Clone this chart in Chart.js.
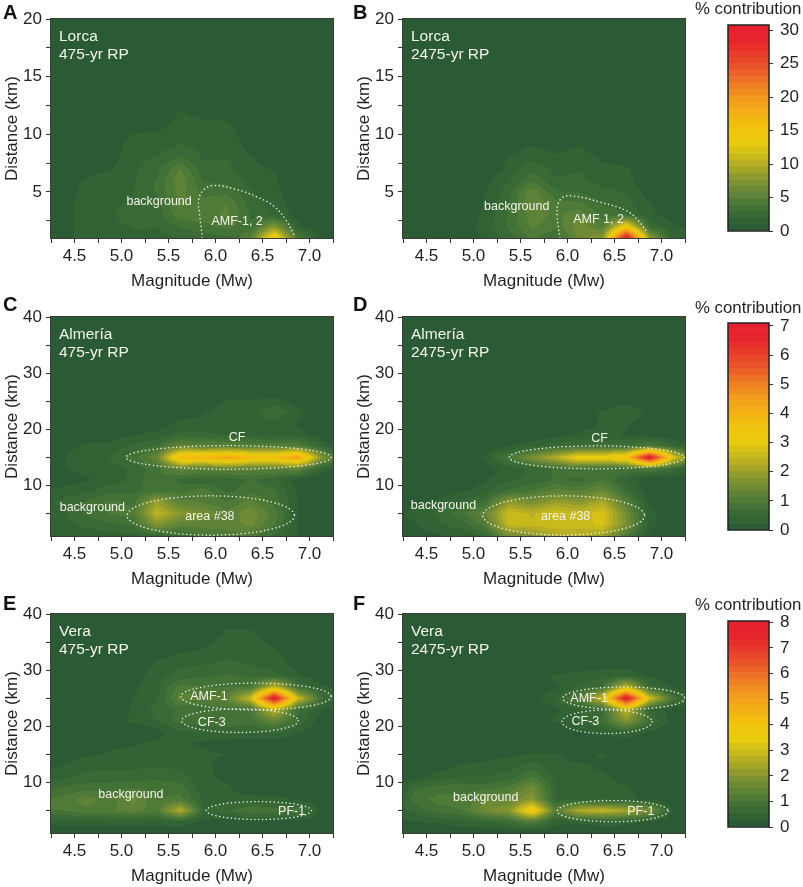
<!DOCTYPE html>
<html lang="en">
<head>
<meta charset="UTF-8">
<title>Seismic hazard disaggregation</title>
<script src="https://cdn.jsdelivr.net/npm/chart.js"></script>
<style>
    body { margin: 0; background: #fff; font-family: "Liberation Sans", Arial, sans-serif; color: #231f20; }
    #page { position: relative; width: 803px; height: 887px; overflow: hidden; }
    canvas { position: absolute; }
    .letter { position: absolute; font-size: 20px; font-weight: bold; line-height: 18px; color: #111; }
    .cbtitle { position: absolute; left: 695px; font-size: 16.8px; line-height: 18px; white-space: nowrap; }
</style>
</head>
<body>
<div id="page"></div>
<script>
// bin centres of the contour grids
const magnitudes = [4.125, 4.375, 4.625, 4.875, 5.125, 5.375, 5.625, 5.875, 6.125, 6.375, 6.625, 6.875, 7.125, 7.375];
const lorcaDistances = [1, 2, 3, 4, 5, 6, 7, 8, 9, 10, 11, 12, 13, 14];
const otherDistances = [1, 3, 5, 7, 9, 11, 13, 15, 17, 19, 21, 23, 25, 27, 29, 31, 33, 35, 37, 39];

// tick labels
const magnitudeTicks = [4.25, 4.5, 4.75, 5, 5.25, 5.5, 5.75, 6, 6.25, 6.5, 6.75, 7, 7.25];
const magnitudeLabels = ["", "4.5", "", "5.0", "", "5.5", "", "6.0", "", "6.5", "", "7.0", ""];
const lorcaTicks = [2.5, 5, 7.5, 10, 12.5, 15, 17.5, 20];
const lorcaLabels = ["", "5", "", "10", "", "15", "", "20"];
const otherTicks = [5, 10, 15, 20, 25, 30, 35, 40];
const otherLabels = ["", "10", "", "20", "", "30", "", "40"];

// % contribution, one row per distance
const lorca475 = [
    [0, 0.5, 1.5, 1.5, 1.8, 1.5, 2.0, 2.4, 2.6, 5.0, 15, 4.0, 0.9, 0.2],
    [0, 0.5, 1.5, 1.5, 2.0, 2.0, 3.0, 3.5, 4.2, 3.0, 7.5, 1.2, 0.3, 0],
    [0, 0.5, 1.6, 1.7, 2.6, 2.3, 4.5, 4.5, 5.0, 2.8, 1.8, 0.6, 0, 0],
    [0, 0.4, 1.6, 1.7, 2.0, 2.5, 5.0, 4.2, 4.8, 2.4, 1.6, 0.3, 0, 0],
    [0, 0.2, 1.5, 1.6, 1.9, 3.0, 5.2, 3.5, 3.5, 2.0, 1.3, 0, 0, 0],
    [0, 0, 1.1, 1.5, 1.8, 3.0, 5.5, 2.8, 2.6, 1.5, 1.1, 0, 0, 0],
    [0, 0, 0.4, 0.9, 1.7, 2.5, 4.8, 2.2, 2.2, 1.2, 0.9, 0, 0, 0],
    [0, 0, 0, 0.5, 1.6, 2.0, 3.0, 1.8, 1.9, 1.0, 0.5, 0, 0, 0],
    [0, 0, 0, 0.3, 1.5, 1.5, 2.0, 1.6, 1.6, 0.6, 0, 0, 0, 0],
    [0, 0, 0, 0, 1.0, 1.1, 1.5, 1.3, 1.4, 0.3, 0, 0, 0, 0],
    [0, 0, 0, 0, 0.3, 0.5, 1.3, 1.1, 1.1, 0, 0, 0, 0, 0],
    [0, 0, 0, 0, 0, 0, 1.0, 0.6, 0.3, 0, 0, 0, 0, 0],
    [0, 0, 0, 0, 0, 0, 0.3, 0, 0, 0, 0, 0, 0, 0]
];
const lorca2475 = [
    [0, 0, 0, 0.3, 1.0, 2.5, 4.0, 3.0, 6.0, 8.0, 30.5, 8.0, 1.5, 1.0],
    [0, 0, 0, 0.5, 1.4, 3.0, 5.0, 4.0, 6.5, 4.5, 14, 2.5, 1.1, 0.6],
    [0, 0, 0, 0, 1.2, 3.0, 5.5, 4.5, 5.5, 3.5, 3.0, 1.2, 0.5, 0],
    [0, 0, 0, 0, 1.1, 2.8, 5.8, 4.2, 4.0, 2.8, 2.2, 1.0, 0, 0],
    [0, 0, 0, 0, 0.9, 2.5, 5.5, 3.0, 2.8, 2.2, 1.8, 0.5, 0, 0],
    [0, 0, 0, 0, 0.6, 1.8, 3.6, 2.0, 2.2, 1.6, 1.4, 0, 0, 0],
    [0, 0, 0, 0, 0.2, 1.2, 2.6, 1.6, 1.8, 1.2, 1.1, 0, 0, 0],
    [0, 0, 0, 0, 0, 1.0, 1.6, 1.2, 1.4, 0.8, 0.4, 0, 0, 0],
    [0, 0, 0, 0, 0, 0.4, 1.0, 0.5, 1.0, 0.2, 0, 0, 0, 0]
];
const almeria475 = [
    [0.2, 0.25, 0.3, 0.35, 0.4, 0.5, 0.6, 0.9, 1.0, 1.0, 0.6, 0.2, 0, 0],
    [0.3, 0.35, 0.5, 0.6, 0.7, 1.7, 1.2, 1.2, 1.2, 1.4, 0.9, 0.2, 0, 0],
    [0.35, 0.4, 0.7, 0.9, 1.0, 2.4, 1.8, 1.5, 1.2, 1.5, 1.0, 0.2, 0, 0],
    [0.35, 0.5, 0.7, 0.95, 0.8, 2.0, 1.2, 1.1, 0.9, 1.2, 0.8, 0.2, 0, 0],
    [0.2, 0.3, 0.4, 0.6, 0.6, 0.8, 0.8, 1.0, 0.6, 0.8, 0.7, 0.2, 0, 0],
    [0, 0.1, 0.2, 0.3, 0.5, 0.9, 0.6, 0.5, 0.5, 0.7, 0.5, 0.1, 0, 0],
    [0, 0.2, 0.3, 0.3, 0.5, 0.8, 1.3, 1.2, 1.3, 1.2, 1.2, 1.3, 0.4, 0],
    [0.1, 0.2, 0.4, 0.45, 0.8, 1.3, 3.9, 3.8, 4.3, 3.8, 3.7, 4.4, 1.8, 0.3],
    [0, 0.1, 0.3, 0.3, 0.5, 0.7, 1.3, 1.2, 1.2, 1.1, 1.1, 1.1, 0.4, 0],
    [0, 0, 0, 0.1, 0.2, 0.3, 0.5, 0.5, 0.4, 0.4, 0.3, 0.3, 0.1, 0],
    [0, 0, 0, 0, 0, 0.05, 0.3, 0.3, 0.4, 0.35, 0.35, 0.2, 0, 0],
    [0, 0, 0, 0, 0, 0, 0.1, 0.2, 0.35, 0.35, 0.7, 0.3, 0, 0],
    [0, 0, 0, 0, 0, 0, 0, 0, 0.25, 0.25, 0.3, 0.1, 0, 0]
];
const almeria2475 = [
    [0, 0.1, 0.2, 0.3, 0.5, 1.5, 1.7, 2.2, 2.2, 2.0, 0.9, 0.1, 0, 0],
    [0.05, 0.2, 0.4, 0.55, 1.0, 2.5, 2.5, 2.6, 2.6, 2.7, 1.6, 0.3, 0, 0],
    [0.1, 0.3, 0.5, 0.8, 1.3, 2.6, 2.4, 2.7, 2.5, 2.8, 1.5, 0.3, 0, 0],
    [0, 0.15, 0.3, 0.45, 0.7, 1.9, 1.6, 2.0, 1.8, 2.2, 1.1, 0.15, 0, 0],
    [0, 0, 0.05, 0.2, 0.35, 0.7, 0.9, 1.2, 1.1, 1.4, 0.6, 0.05, 0, 0],
    [0, 0, 0, 0, 0.2, 0.4, 0.5, 0.7, 0.6, 0.9, 0.4, 0, 0, 0],
    [0, 0, 0, 0, 0.1, 0.3, 0.5, 0.7, 0.9, 0.8, 0.8, 1.0, 0.6, 0.2],
    [0, 0, 0, 0, 0.25, 0.9, 1.6, 2.3, 3.2, 3.2, 3.6, 7.1, 2.8, 1.0],
    [0, 0, 0, 0, 0.05, 0.2, 0.4, 0.6, 0.7, 0.8, 0.7, 1.0, 0.5, 0.1],
    [0, 0, 0, 0, 0, 0, 0, 0.1, 0.25, 0.3, 0.2, 0.1, 0, 0],
    [0, 0, 0, 0, 0, 0, 0, 0, 0.1, 0.25, 0.25, 0.1, 0, 0],
    [0, 0, 0, 0, 0, 0, 0, 0, 0.1, 0.25, 0.4, 0.15, 0, 0],
    [0, 0, 0, 0, 0, 0, 0, 0, 0, 0.05, 0.15, 0, 0, 0]
];
const vera475 = [
    [0, 0, 0, 0, 0, 0, 0, 0, 0, 0, 0, 0, 0, 0],
    [0.3, 0.35, 0.35, 0.35, 0.35, 0.35, 0.4, 0.2, 0.1, 0.15, 0.15, 0.1, 0, 0],
    [1.0, 1.0, 1.2, 1.2, 1.4, 1.1, 2.6, 0.5, 0.7, 1.0, 0.9, 0.9, 0.2, 0],
    [1.0, 1.1, 1.4, 1.1, 1.6, 1.0, 1.1, 0.4, 0.3, 0.4, 0.35, 0.2, 0, 0],
    [0.5, 0.8, 0.9, 0.9, 1.0, 0.9, 0.9, 0.3, 0.3, 0, 0, 0, 0, 0],
    [0.3, 0.45, 0.6, 0.6, 0.6, 0.7, 0.6, 0.3, 0.2, 0, 0, 0, 0, 0],
    [0.1, 0.25, 0.4, 0.45, 0.45, 0.45, 0.45, 0.3, 0.15, 0, 0, 0, 0, 0],
    [0, 0.1, 0.2, 0.3, 0.4, 0.4, 0.4, 0.3, 0.25, 0, 0, 0, 0, 0],
    [0, 0, 0, 0.1, 0.2, 0.3, 0.3, 0.2, 0.1, 0, 0, 0, 0, 0],
    [0, 0, 0, 0, 0, 0.15, 0.45, 0.5, 0.6, 0.5, 0.6, 0.3, 0, 0],
    [0, 0, 0, 0.1, 0.3, 0.5, 0.9, 0.9, 1.0, 0.9, 1.5, 0.7, 0.1, 0],
    [0, 0, 0, 0, 0.3, 0.6, 0.8, 0.8, 0.9, 1.0, 2.8, 0.8, 0.3, 0],
    [0, 0, 0, 0, 0.25, 0.45, 1.4, 1.3, 1.4, 2.9, 8.0, 2.9, 0.8, 0.5],
    [0, 0, 0, 0, 0.2, 0.4, 1.1, 1.0, 1.0, 1.0, 2.8, 0.8, 0.3, 0.1],
    [0, 0, 0, 0, 0.1, 0.4, 0.6, 0.7, 0.8, 0.7, 0.6, 0.3, 0, 0],
    [0, 0, 0, 0, 0, 0.3, 0.45, 0.5, 0.55, 0.5, 0.4, 0.15, 0, 0],
    [0, 0, 0, 0, 0, 0.15, 0.25, 0.3, 0.45, 0.4, 0.3, 0.1, 0, 0],
    [0, 0, 0, 0, 0, 0, 0, 0.2, 0.35, 0.35, 0.2, 0, 0, 0],
    [0, 0, 0, 0, 0, 0, 0, 0, 0.28, 0.28, 0, 0, 0, 0]
];
const vera2475 = [
    [0, 0, 0, 0, 0, 0, 0, 0, 0, 0, 0, 0, 0, 0],
    [0.1, 0.25, 0.3, 0.4, 0.5, 0.7, 1.2, 0.35, 0.3, 0.4, 0.35, 0.2, 0, 0],
    [0.3, 0.6, 0.9, 1.0, 1.7, 2.0, 4.0, 1.2, 2.6, 2.8, 2.4, 1.8, 0.2, 0],
    [0.1, 0.9, 1.1, 1.1, 1.5, 1.5, 2.0, 0.5, 0.35, 0.35, 0.3, 0.2, 0, 0],
    [0, 0.7, 0.9, 0.9, 0.9, 1.1, 1.7, 0.5, 0.3, 0.3, 0.3, 0.1, 0, 0],
    [0, 0.1, 0.4, 0.5, 0.5, 0.6, 1.0, 0.4, 0.3, 0.3, 0.15, 0, 0, 0],
    [0, 0, 0.1, 0.3, 0.35, 0.4, 0.6, 0.3, 0.3, 0.2, 0, 0, 0, 0],
    [0, 0, 0, 0, 0.1, 0.2, 0.3, 0.3, 0.1, 0.3, 0, 0, 0, 0],
    [0, 0, 0, 0, 0, 0, 0, 0, 0, 0, 0, 0, 0, 0],
    [0, 0, 0, 0, 0, 0, 0, 0, 0.2, 0.3, 0.5, 0.2, 0, 0],
    [0, 0, 0, 0, 0, 0, 0.1, 0.3, 0.5, 0.8, 2.0, 0.8, 0.1, 0],
    [0, 0, 0, 0, 0, 0, 0, 0.2, 0.5, 0.7, 2.8, 0.5, 0.1, 0],
    [0, 0, 0, 0, 0, 0, 0.1, 0.5, 1.1, 3.0, 8.0, 3.0, 0.9, 0.5],
    [0, 0, 0, 0, 0, 0, 0, 0.2, 0.5, 0.8, 2.8, 0.6, 0.2, 0],
    [0, 0, 0, 0, 0, 0, 0.15, 0.3, 0.35, 0.4, 0.5, 0.2, 0, 0],
    [0, 0, 0, 0, 0, 0, 0, 0, 0.1, 0.1, 0.1, 0, 0, 0]
];

// dotted source outlines and labels, in magnitude / distance units
const amfOutlineA = [[5.86, 1], [5.83, 3.1], [5.82, 4.28], [5.87, 5.14], [5.98, 5.55], [6.19, 5.29], [6.44, 4.57], [6.63, 3.7], [6.75, 2.54], [6.84, 1.2]];
const amfOutlineB = [[5.92, 1], [5.89, 2.83], [5.9, 3.99], [5.96, 4.57], [6.06, 4.65], [6.34, 4.13], [6.63, 3.35], [6.75, 2.54], [6.85, 1.46]];
const ellipsesC = [[6.14, 15, 1.09, 2.1], [5.95, 4.65, 0.89, 3.5]];
const ellipsesD = [[6.31, 15, 0.93, 2.05], [5.96, 4.65, 0.86, 3.5]];
const ellipsesE = [[6.43, 25.3, 0.8, 2.4], [6.26, 21, 0.62, 2.1], [6.46, 5, 0.56, 1.6]];
const ellipsesF = [[6.6, 25, 0.65, 2], [6.42, 20.8, 0.48, 2.1], [6.48, 4.9, 0.59, 1.9]];
const notesA = [["background", 5.4, 4.13], ["AMF-1, 2", 6.23, 2.45]];
const notesB = [["background", 5.46, 3.75], ["AMF 1, 2", 6.33, 2.6]];
const notesC = [["background", 4.69, 6.1], ["CF", 6.23, 18.5], ["area #38", 5.94, 4.4]];
const notesD = [["background", 4.68, 6.5], ["CF", 6.34, 18.3], ["area #38", 5.98, 4.4]];
const notesE = [["background", 5.1, 7.9], ["AMF-1", 5.93, 25.3], ["CF-3", 5.96, 20.7], ["PF-1", 6.81, 4.9]];
const notesF = [["background", 5.13, 7.4], ["AMF-1", 6.23, 25], ["CF-3", 6.19, 20.8], ["PF-1", 6.78, 4.9]];

const LEVELS = 32;
const rampStops = [
    [0, 42, 91, 52], [0.08, 60, 110, 54], [0.16, 92, 130, 56], [0.25, 140, 152, 46], [0.33, 188, 179, 33],
    [0.42, 230, 203, 14], [0.5, 242, 195, 14], [0.65, 242, 154, 31], [0.8, 233, 85, 41], [0.93, 230, 38, 45], [1, 230, 33, 46]
];
const fontName = '"Liberation Sans", Arial, sans-serif';
const inkColor = "#231f20";
const dotColor = "rgba(255,255,255,0.9)";
const dotDash = [0.1, 3.8];

function rampColor(f) {
    let i = 1;
    while (i < rampStops.length - 1 && rampStops[i][0] < f) i++;
    const a = rampStops[i - 1], b = rampStops[i];
    const t = Math.min(1, Math.max(0, (f - a[0]) / (b[0] - a[0])));
    return [1, 2, 3].map(k => Math.round(a[k] + (b[k] - a[k]) * t));
}
const levelColors = [];
for (let i = 0; i < LEVELS; i++) levelColors.push(rampColor(i / (LEVELS - 1)));

function addCanvas(left, top, width, height) {
    const c = document.createElement("canvas");
    c.width = width;
    c.height = height;
    c.style.left = left + "px";
    c.style.top = top + "px";
    c.style.width = width + "px";
    c.style.height = height + "px";
    document.getElementById("page").appendChild(c);
    return c.getContext("2d");
}

function addText(cls, text, left, top) {
    const d = document.createElement("div");
    d.className = cls;
    d.textContent = text;
    d.style.top = top + "px";
    if (left !== null) d.style.left = left + "px";
    document.getElementById("page").appendChild(d);
}

// index of the grid cell holding v, and the position inside it (held to 0..1)
function findCell(list, v) {
    let i = 0;
    while (i < list.length - 2 && list[i + 1] < v) i++;
    return [i, Math.min(1, Math.max(0, (v - list[i]) / (list[i + 1] - list[i])))];
}

// contour fill, goes through the chart's scales for every pixel
function contourPlugin(p) {
    return {
        id: "contour",
        beforeDatasetsDraw(chart) {
            const a = chart.chartArea, xs = chart.scales.x, ys = chart.scales.y, ctx = chart.ctx;
            const w = Math.round(a.right - a.left), h = Math.round(a.bottom - a.top);
            const off = document.createElement("canvas");
            off.width = w;
            off.height = h;
            const octx = off.getContext("2d");
            const img = octx.createImageData(w, h);
            for (let py = 0; py < h; py++) {
                const d = ys.getValueForPixel(a.top + py + 0.5);
                const [r, tr] = findCell(p.distances, d);
                const low = p.rows[r] || [], high = p.rows[r + 1] || [];
                for (let px = 0; px < w; px++) {
                    const m = xs.getValueForPixel(a.left + px + 0.5);
                    const [c, tc] = findCell(magnitudes, m);
                    const v = (low[c] || 0) * (1 - tr) * (1 - tc) + (low[c + 1] || 0) * (1 - tr) * tc
                        + (high[c] || 0) * tr * (1 - tc) + (high[c + 1] || 0) * tr * tc;
                    const level = Math.max(0, Math.min(LEVELS - 1, Math.floor(v / p.vmax * LEVELS)));
                    const col = levelColors[level], o = (py * w + px) * 4;
                    img.data[o] = col[0];
                    img.data[o + 1] = col[1];
                    img.data[o + 2] = col[2];
                    img.data[o + 3] = 255;
                }
            }
            octx.putImageData(img, 0, 0);
            ctx.save();
            ctx.beginPath();
            ctx.rect(a.left, a.top, a.right - a.left, a.bottom - a.top);
            ctx.clip();
            ctx.drawImage(off, a.left, a.top);
            ctx.filter = "blur(0.7px)";
            ctx.drawImage(off, a.left, a.top);
            ctx.restore();
        },
        afterDatasetsDraw(chart) {
            const a = chart.chartArea, xs = chart.scales.x, ys = chart.scales.y, ctx = chart.ctx;
            ctx.save();
            ctx.beginPath();
            ctx.rect(a.left, a.top, a.right - a.left, a.bottom - a.top);
            ctx.clip();
            ctx.strokeStyle = dotColor;
            ctx.lineWidth = 1.5;
            ctx.lineCap = "round";
            ctx.setLineDash(dotDash);
            (p.ellipses || []).forEach(e => {
                const cx = xs.getPixelForValue(e[0]), cy = ys.getPixelForValue(e[1]);
                const rx = xs.getPixelForValue(e[0] + e[2]) - cx, ry = cy - ys.getPixelForValue(e[1] + e[3]);
                ctx.beginPath();
                ctx.ellipse(cx, cy, rx, ry, 0, 0, Math.PI * 2);
                ctx.stroke();
            });
            ctx.setLineDash([]);
            ctx.fillStyle = "#f4f4ea";
            ctx.textAlign = "center";
            ctx.textBaseline = "middle";
            ctx.font = "12.5px " + fontName;
            p.notes.forEach(n => ctx.fillText(n[0], xs.getPixelForValue(n[1]), ys.getPixelForValue(n[2])));
            ctx.textAlign = "left";
            ctx.font = "15.5px " + fontName;
            ctx.fillText(p.place, a.left + 8, a.top + 18);
            ctx.fillText(p.period, a.left + 8, a.top + 36);
            ctx.restore();
            ctx.strokeStyle = "#3a3a36";
            ctx.lineWidth = 1;
            ctx.strokeRect(a.left - 0.5, a.top - 0.5, a.right - a.left + 1, a.bottom - a.top + 1);
        }
    };
}

function drawPanel(p) {
    const points = [];
    p.rows.forEach((row, r) => row.forEach((v, c) => points.push({ x: magnitudes[c], y: p.distances[r], v: v })));
    const datasets = [{ data: points, pointRadius: 0, showLine: false }];
    if (p.outline) {
        datasets.push({
            data: p.outline.map(o => ({ x: o[0], y: o[1] })),
            showLine: true, pointRadius: 0, tension: 0.4, fill: false,
            borderColor: dotColor, borderWidth: 1.5, borderDash: dotDash, borderCapStyle: "round"
        });
    }
    new Chart(addCanvas(p.left, p.top - 15, 341, 288), {
        type: "scatter",
        data: { datasets: datasets },
        plugins: [contourPlugin(p)],
        options: {
            responsive: false,
            animation: false,
            devicePixelRatio: 1,
            layout: { padding: { top: 15, right: 8, left: 0, bottom: 0 } },
            plugins: { legend: { display: false }, tooltip: { enabled: false } },
            scales: {
                x: {
                    type: "linear", min: 4.25, max: 7.25,
                    grid: { drawOnChartArea: false, tickLength: 5, tickColor: "#333" },
                    border: { display: false },
                    title: { display: true, text: "Magnitude (Mw)", color: inkColor, font: { size: 17, family: fontName }, padding: 0 },
                    ticks: {
                        autoSkip: false, maxRotation: 0, minRotation: 0, padding: 3, color: inkColor, font: { size: 17, family: fontName },
                        callback: v => magnitudeLabels[magnitudeTicks.indexOf(v)]
                    },
                    afterBuildTicks: s => { s.ticks = magnitudeTicks.map(v => ({ value: v })); },
                    afterFit: s => { s.height = 54; }
                },
                y: {
                    type: "linear", min: 1, max: p.dmax,
                    grid: { drawOnChartArea: false, tickLength: 5, tickColor: "#333" },
                    border: { display: false },
                    title: { display: true, text: "Distance (km)", color: inkColor, font: { size: 17, family: fontName }, padding: { top: 2, bottom: 0 } },
                    ticks: {
                        autoSkip: false, padding: 4, color: inkColor, font: { size: 17, family: fontName },
                        callback: v => p.tickLabels[p.ticks.indexOf(v)]
                    },
                    afterBuildTicks: s => { s.ticks = p.ticks.map(v => ({ value: v })); },
                    afterFit: s => { s.width = 51; }
                }
            }
        }
    });
}

const barFrame = {
    id: "barFrame",
    afterDatasetsDraw(chart) {
        const a = chart.chartArea, ctx = chart.ctx;
        ctx.strokeStyle = "#222";
        ctx.lineWidth = 1.5;
        ctx.strokeRect(a.left, a.top, a.right - a.left, a.bottom - a.top);
    }
};

function drawColorbar(top, height, vmax, ticks) {
    const datasets = levelColors.map((c, i) => ({
        data: [[i * vmax / LEVELS, (i + 1) * vmax / LEVELS]],
        backgroundColor: "rgb(" + c.join(",") + ")",
        barPercentage: 1, categoryPercentage: 1, borderWidth: 0
    }));
    new Chart(addCanvas(700, top - 20, 103, height + 40), {
        type: "bar",
        data: { labels: [""], datasets: datasets },
        plugins: [barFrame],
        options: {
            responsive: false,
            animation: false,
            devicePixelRatio: 1,
            layout: { padding: { left: 28, top: 20, bottom: 20, right: 0 } },
            plugins: { legend: { display: false }, tooltip: { enabled: false } },
            scales: {
                x: { display: false, stacked: true },
                y: {
                    position: "right", min: 0, max: vmax,
                    grid: { drawOnChartArea: false, tickLength: 4, tickColor: "#333" },
                    border: { display: false },
                    ticks: { autoSkip: false, padding: 7, color: inkColor, font: { size: 17, family: fontName } },
                    afterBuildTicks: s => { s.ticks = ticks.map(v => ({ value: v })); },
                    afterFit: s => { s.width = 34; }
                }
            }
        }
    });
}

const leftCol = 0, rightCol = 352;
drawPanel({ left: leftCol, top: 19, rows: lorca475, distances: lorcaDistances, vmax: 30.75, dmax: 20, ticks: lorcaTicks, tickLabels: lorcaLabels, place: "Lorca", period: "475-yr RP", notes: notesA, outline: amfOutlineA });
drawPanel({ left: rightCol, top: 19, rows: lorca2475, distances: lorcaDistances, vmax: 30.75, dmax: 20, ticks: lorcaTicks, tickLabels: lorcaLabels, place: "Lorca", period: "2475-yr RP", notes: notesB, outline: amfOutlineB });
drawPanel({ left: leftCol, top: 317, rows: almeria475, distances: otherDistances, vmax: 7.1, dmax: 40, ticks: otherTicks, tickLabels: otherLabels, place: "Almería", period: "475-yr RP", notes: notesC, ellipses: ellipsesC });
drawPanel({ left: rightCol, top: 317, rows: almeria2475, distances: otherDistances, vmax: 7.1, dmax: 40, ticks: otherTicks, tickLabels: otherLabels, place: "Almería", period: "2475-yr RP", notes: notesD, ellipses: ellipsesD });
drawPanel({ left: leftCol, top: 614, rows: vera475, distances: otherDistances, vmax: 8.05, dmax: 40, ticks: otherTicks, tickLabels: otherLabels, place: "Vera", period: "475-yr RP", notes: notesE, ellipses: ellipsesE });
drawPanel({ left: rightCol, top: 614, rows: vera2475, distances: otherDistances, vmax: 8.05, dmax: 40, ticks: otherTicks, tickLabels: otherLabels, place: "Vera", period: "2475-yr RP", notes: notesF, ellipses: ellipsesF });

drawColorbar(25, 206, 30.75, [0, 5, 10, 15, 20, 25, 30]);
drawColorbar(323, 207, 7.1, [0, 1, 2, 3, 4, 5, 6, 7]);
drawColorbar(621, 206, 8.05, [0, 1, 2, 3, 4, 5, 6, 7, 8]);

[["A", 3, 3], ["B", 353, 3], ["C", 3, 295], ["D", 353, 295], ["E", 3, 594], ["F", 353, 594]].forEach(l => addText("letter", l[0], l[1], l[2]));
[0, 299, 596].forEach(t => addText("cbtitle", "% contribution", null, t));
</script>
</body>
</html>
